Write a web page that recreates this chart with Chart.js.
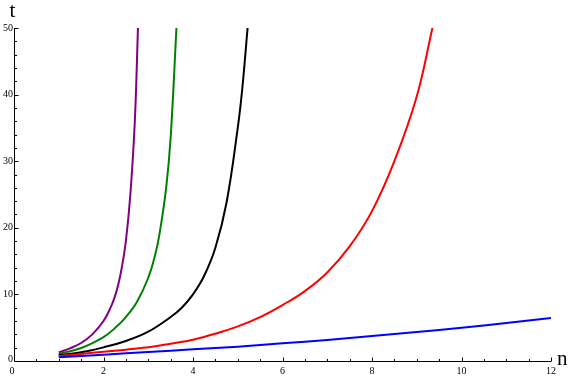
<!DOCTYPE html>
<html>
<head>
<meta charset="utf-8">
<script src="https://cdn.jsdelivr.net/npm/chart.js@4.4.0/dist/chart.umd.min.js"></script>
<style>
  html, body { margin: 0; padding: 0; background: #fff; }
  #wrap { width: 569px; height: 377px; position: relative; }
</style>
</head>
<body>
<div id="wrap"><canvas id="myChart" width="569" height="377"></canvas></div>
<script>
// values (n on x, t on y)
const purpleN = [1, 1.25, 1.5, 1.75, 2, 2.15, 2.25, 2.33, 2.4, 2.5, 2.6, 2.7, 2.77];
const purpleT = [1.3, 1.9, 2.7, 4.0, 6.0, 7.9, 9.6, 11.5, 13.7, 18.0, 25.0, 36.0, 50];

const greenN = [1, 1.5, 2, 2.25, 2.5, 2.75, 3, 3.15, 3.25, 3.4, 3.5, 3.63];
const greenT = [1.05, 1.95, 3.6, 4.9, 6.6, 8.9, 12.5, 15.8, 19.0, 26.0, 33.5, 50];

const blackN = [1, 1.5, 2, 2.5, 3, 3.5, 3.75, 4, 4.25, 4.5, 4.75, 5, 5.1, 5.22];
const blackT = [0.9, 1.3, 2.05, 3.0, 4.4, 6.6, 8.0, 10.0, 12.8, 17.0, 23.8, 35.0, 40.8, 50];

const redN = [1, 1.5, 2, 2.5, 3, 3.5, 4, 4.5, 5, 5.5, 6, 6.5, 7, 7.5, 8, 8.5, 9, 9.35];
const redT = [0.75, 1.05, 1.4, 1.7, 2.05, 2.6, 3.2, 4.1, 5.2, 6.6, 8.4, 10.5, 13.3, 17.2, 22.5, 30.0, 39.7, 50];

const blueN = [1, 2, 3, 4, 5, 6, 7, 8, 9, 10, 11, 12];
const blueT = [0.55, 0.95, 1.35, 1.75, 2.15, 2.65, 3.15, 3.75, 4.35, 5.0, 5.7, 6.45];

const xTickLabels = [0, 2, 4, 6, 8, 10, 12];
const yTickLabels = [0, 10, 20, 30, 40, 50];

function pts(xs, ys) {
  return xs.map((x, i) => ({ x: x, y: ys[i] }));
}

function series(xs, ys, color) {
  return {
    data: pts(xs, ys),
    borderColor: color,
    borderWidth: 2,
    pointRadius: 0,
    fill: false,
    tension: 0.4
  };
}

// axes drawn Mathematica-style: ticks pointing inward, labels hugging the axis
const axesPlugin = {
  id: "mmaAxes",
  afterDatasetsDraw(chart) {
    const ctx = chart.ctx;
    const xs = chart.scales.x, ys = chart.scales.y;
    const x0 = Math.round(xs.getPixelForValue(0)) + 0.5;
    const y0 = Math.round(ys.getPixelForValue(0)) + 0.5;
    const xEnd = xs.getPixelForValue(12);
    const yTop = ys.getPixelForValue(50);

    ctx.save();
    ctx.strokeStyle = "#000";
    ctx.lineWidth = 1;
    ctx.beginPath();
    ctx.moveTo(x0, y0); ctx.lineTo(xEnd, y0);
    ctx.moveTo(x0, y0); ctx.lineTo(x0, yTop);

    for (let v = 0.5; v <= 12; v += 0.5) {
      const px = Math.round(xs.getPixelForValue(v)) + 0.5;
      const len = (v % 2 === 0) ? 4 : 2.5;
      ctx.moveTo(px, y0); ctx.lineTo(px, y0 - len);
    }
    for (let v = 2; v <= 50; v += 2) {
      const py = Math.round(ys.getPixelForValue(v)) + 0.5;
      const len = (v % 10 === 0) ? 4 : 2.5;
      ctx.moveTo(x0, py); ctx.lineTo(x0 + len, py);
    }
    ctx.stroke();

    ctx.fillStyle = "#000";
    ctx.font = "10px 'Liberation Serif'";
    ctx.textAlign = "center";
    ctx.textBaseline = "middle";
    xTickLabels.forEach(v => {
      let px = xs.getPixelForValue(v);
      if (v === 0) px -= 2;
      ctx.fillText(String(v), px, y0 + 10);
    });
    ctx.textAlign = "right";
    yTickLabels.forEach(v => {
      ctx.fillText(String(v), x0 - 1.5, ys.getPixelForValue(v) - (v === 0 ? 2 : 0));
    });

    ctx.font = "21px 'Liberation Serif'";
    ctx.textAlign = "center";
    ctx.fillText("t", x0 - 2, 11);
    ctx.textAlign = "left";
    ctx.fillText("n", xEnd + 6, y0 - 2);
    ctx.restore();
  }
};

const ctx = document.getElementById("myChart").getContext("2d");
new Chart(ctx, {
  type: "line",
  data: {
    datasets: [
      series(blueN, blueT, "#0000ff"),
      series(redN, redT, "#ff0000"),
      series(blackN, blackT, "#000000"),
      series(greenN, greenT, "#008000"),
      series(purpleN, purpleT, "#800080")
    ]
  },
  options: {
    responsive: false,
    animation: false,
    layout: { padding: { left: 14, right: 18, top: 28, bottom: 16 } },
    plugins: { legend: { display: false }, tooltip: { enabled: false } },
    scales: {
      x: { type: "linear", min: 0, max: 12, display: false },
      y: { type: "linear", min: 0, max: 50, display: false }
    }
  },
  plugins: [axesPlugin]
});
</script>
</body>
</html>
